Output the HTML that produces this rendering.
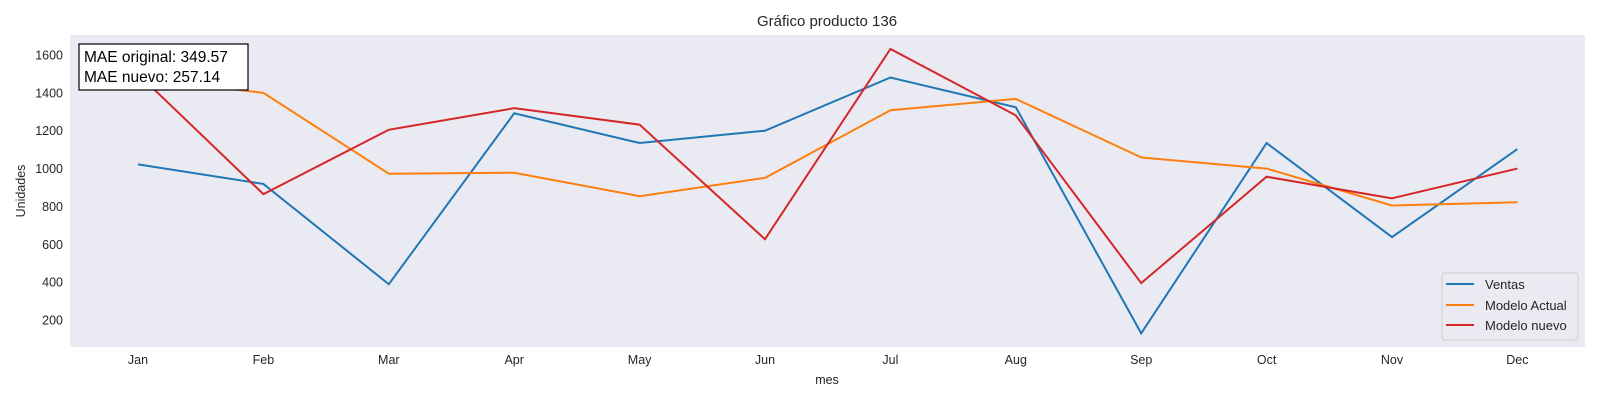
<!DOCTYPE html>
<html><head><meta charset="utf-8"><style>
body{margin:0;background:#fff;}
svg text{font-family:"Liberation Sans",Arial,sans-serif;fill:#262626;}
</style></head><body>
<svg id="chart" width="1600" height="400" xmlns="http://www.w3.org/2000/svg">
<rect x="70" y="35" width="1515" height="312" fill="#eaeaf2"/>
<text x="827" y="26" font-size="15" text-anchor="middle">Gráfico producto 136</text>
<text x="0" y="0" font-size="12.5" text-anchor="middle" transform="translate(25,191) rotate(-90)">Unidades</text>
<text x="827" y="384" font-size="12.5" text-anchor="middle">mes</text>
<g id="yticks"></g><g id="xticks"></g><g id="lines"></g>
<g>
<rect x="79" y="44" width="169" height="46" fill="#fff" stroke="#000" stroke-width="1.2"/>
<text x="84" y="62" font-size="15.5" style="fill:#000">MAE original: 349.57</text>
<text x="84" y="82" font-size="15.5" style="fill:#000">MAE nuevo: 257.14</text>
</g>
<g>
<rect x="1442" y="273" width="136" height="67" rx="3" fill="#eaeaf2" fill-opacity="0.8" stroke="#ccc"/>
<g><line x1="1446" y1="284" x2="1474" y2="284" stroke="#1f77b4" stroke-width="2"/><text x="1485" y="289" font-size="13">Ventas</text></g>
<g><line x1="1446" y1="305" x2="1474" y2="305" stroke="#ff7f0e" stroke-width="2"/><text x="1485" y="310" font-size="13">Modelo Actual</text></g>
<g><line x1="1446" y1="325" x2="1474" y2="325" stroke="#d62728" stroke-width="2"/><text x="1485" y="330" font-size="13">Modelo nuevo</text></g>
</g>
</svg>
<script>
const months=["Jan","Feb","Mar","Apr","May","Jun","Jul","Aug","Sep","Oct","Nov","Dec"];
const ventas=[1022,919,389,1292,1135,1200,1481,1324,130,1135,638,1103];
const modeloActual=[1480,1400,973,978,854,951,1308,1368,1059,1000,805,822];
const modeloNuevo=[1500,865,1205,1319,1232,627,1632,1281,395,957,843,1000];
const yTicks=[200,400,600,800,1000,1200,1400,1600];
const NS="http://www.w3.org/2000/svg";
const x=i=>138+i*125.4;
const y=v=>55+(1600-v)*37.86/200;
const yt=document.getElementById('yticks');
yTicks.forEach(t=>{const e=document.createElementNS(NS,'text');


e.setAttribute('x',63);e.setAttribute('y',y(t)+4.5);e.setAttribute('font-size','12.5');e.setAttribute('text-anchor','end');e.textContent=t;yt.appendChild(e);});
const xt=document.getElementById('xticks');
months.forEach((m,i)=>{const e=document.createElementNS(NS,'text');


e.setAttribute('x',x(i));e.setAttribute('y',364);e.setAttribute('font-size','12.5');e.setAttribute('text-anchor','middle');e.textContent=m;xt.appendChild(e);});
const lg=document.getElementById('lines');
[[ventas,'#1f77b4','line-ventas'],[modeloActual,'#ff7f0e','line-modelo-actual'],[modeloNuevo,'#d62728','line-modelo-nuevo']].forEach(([d,c,n])=>{
const p=document.createElementNS(NS,'polyline');


p.setAttribute('points',d.map((v,i)=>x(i)+','+y(v)).join(' '));
p.setAttribute('fill','none');p.setAttribute('stroke',c);p.setAttribute('stroke-width','2');lg.appendChild(p);});
</script>
</body></html>
